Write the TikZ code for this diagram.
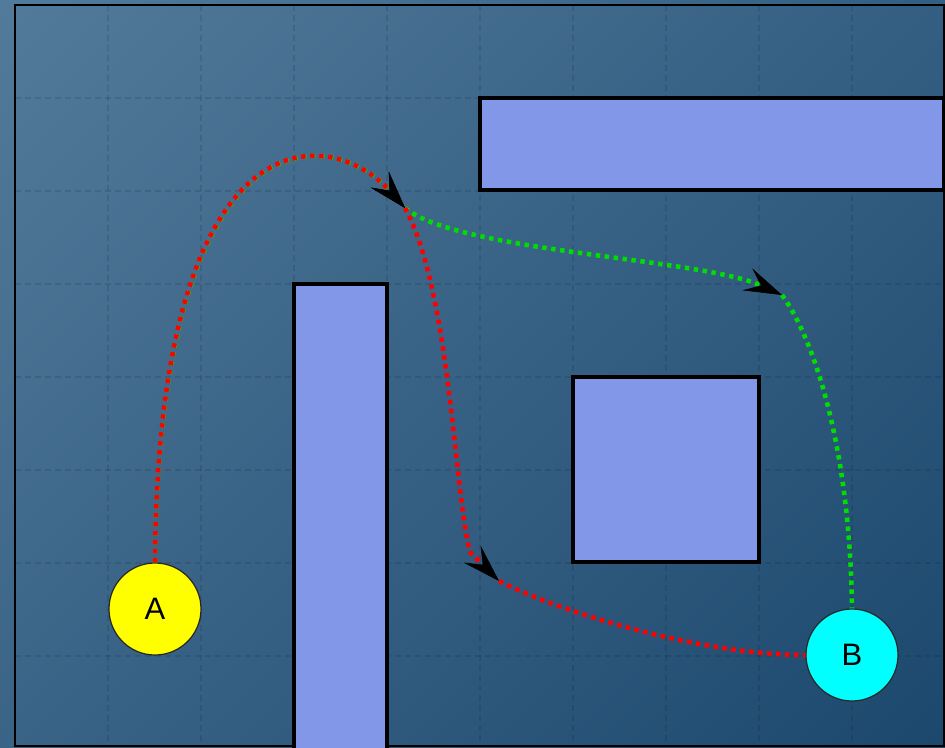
\documentclass[tikz,border=0pt]{standalone}
\usepackage{fontspec}
\setmainfont{Liberation Sans}
\usetikzlibrary{arrows.meta}
\definecolor{bgLight}{HTML}{537B9B}
\definecolor{bgDark}{HTML}{1B476D}
\definecolor{obst}{HTML}{8297E8}
\definecolor{pathRed}{HTML}{FF0000}
\definecolor{pathGreen}{HTML}{00DD00}
\definecolor{robotA}{HTML}{FFFF00}
\definecolor{robotB}{HTML}{00FFFF}
\tikzset{
  obstacle/.style={fill=obst, draw=black, line width=4pt},
  gridline/.style={draw=black, opacity=0.1, line width=1.3pt, dash pattern=on 6pt off 4pt},
  robot/.style={circle, minimum size=92pt, inner sep=0pt, draw=black!85, line width=1.2pt, font=\fontsize{31}{36}\selectfont},
  dotted path/.style={line width=4.6pt, dash pattern=on 4.4pt off 4.6pt},
  redpath/.style={dotted path, draw=pathRed},
  greenpath/.style={dotted path, draw=pathGreen},
  tip/.style={-{Stealth[color=black, length=38pt, width=24pt, inset=15pt, line width=0.5pt]}}
}
\begin{document}
\begin{tikzpicture}[x=1pt, y=-1pt]
  \useasboundingbox (0,0) rectangle (945,747);
  \clip (0,0) rectangle (945,747);
  % background
  \shade[top color=bgLight, bottom color=bgDark, shading angle=45] (-200,-200) rectangle (1145,947);
  % grid
  \foreach \gx in {108,201,294,387,480,573,666,759,852}
    \draw[gridline] (\gx,5) -- (\gx,747);
  \foreach \gy in {98,191,284,377,470,563,656}
    \draw[gridline] (15,\gy) -- (945,\gy);
  % frame
  \draw[black, line width=2.5pt] (15,5) rectangle (944,746);
  % obstacles
  \draw[obstacle] (480,98) rectangle (944,190);
  \draw[obstacle] (294,284) rectangle (387,760);
  \draw[obstacle] (573,377) rectangle (759,562);
  % robots
  \node[robot, fill=robotA] (A) at (155,609) {A};
  \node[robot, fill=robotB] (B) at (852,655) {B};
  % waypoints
  \coordinate (W1) at (405,208);
  \coordinate (W2) at (499,581);
  \coordinate (W3) at (782,295);
  % green path
  \draw[greenpath, tip, shift={(1,0.3)}] (A.north) .. controls (158,108) and (330,124) .. (W1);
  \draw[greenpath, tip] (W1) .. controls (458,252) and (700,258) .. (W3);
  \draw[greenpath] (W3) .. controls (815,340) and (850,450) .. (B.north);
  % red path
  \draw[redpath, tip] (A.north) .. controls (158,108) and (330,124) .. (W1);
  \draw[redpath, tip] (W1) .. controls (450,290) and (454,490) .. (470,552) -- (W2);
  \draw[redpath] (W2) .. controls (560,612) and (700,655) .. (B.west);
\end{tikzpicture}
\end{document}
